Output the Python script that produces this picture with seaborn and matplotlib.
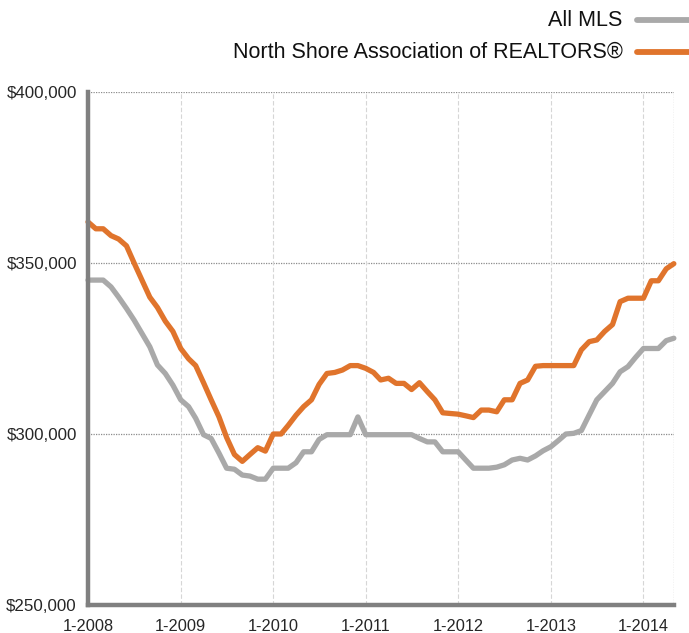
import pandas as pd
import seaborn as sns
import matplotlib.pyplot as plt
import matplotlib.ticker as mticker

# monthly median prices, Jan 2008 - May 2014 (in $1000s)
months = pd.date_range('2008-01-01', '2014-05-01', freq='MS')

north_shore = [362, 360, 360, 358, 357, 355, 350, 345, 340, 337, 333, 330,
               325, 322, 320, 315, 310, 305, 299, 294, 292, 294, 296, 295,
               300, 300, 302.5, 305.5, 308, 310, 314.5, 317.7, 318, 318.7, 320, 320,
               319.2, 318, 315.8, 316.3, 314.8, 314.8, 313, 315, 312.4, 310, 306.2, 306,
               305.8, 305.3, 304.8, 307, 307, 306.5, 310, 310, 314.8, 315.8, 319.8, 320,
               320, 320, 320, 320, 324.6, 327, 327.5, 330, 332, 338.7, 339.7, 339.7,
               339.7, 344.8, 344.8, 348.3, 349.8]
all_mls = [345, 345, 345, 343, 340, 336.7, 333.3, 329.4, 325.5, 320.2, 317.7, 314.3,
           310, 308, 304.6, 299.8, 298.7, 294.4, 290, 289.7, 288, 287.7, 286.8, 286.8,
           290, 290, 290, 291.6, 294.8, 294.8, 298.4, 299.8, 299.8, 299.8, 299.8, 305,
           299.8, 299.8, 299.8, 299.8, 299.8, 299.8, 299.8, 298.7, 297.7, 297.7, 294.8, 294.8,
           294.8, 292.3, 290, 290, 290, 290.3, 291, 292.4, 292.9, 292.4, 293.6, 295.1,
           296.3, 298.2, 300, 300.2, 301, 305.6, 310, 312.4, 314.8, 318.2, 319.7, 322.4,
           325, 325, 325, 327.3, 328]

series_names = ['All MLS', 'North Shore Association of REALTORS\u00ae']
series_colors = ['#a9a9a9', '#e0742c']

df = pd.DataFrame({
    'month': list(months) * 2,
    'price': [v * 1000 for v in all_mls + north_shore],
    'series': [series_names[0]] * len(all_mls) + [series_names[1]] * len(north_shore),
})

sns.set_style('white')
plt.rcParams['font.family'] = ['Liberation Sans', 'DejaVu Sans']

fig = plt.figure(figsize=(6.89, 6.33), dpi=100)
ax = fig.add_axes([0.1277, 0.0442, 0.978 - 0.1277, 0.8547 - 0.0442])

sns.lineplot(data=df, x='month', y='price', hue='series', hue_order=series_names,
             palette=series_colors, linewidth=3.8, ax=ax, legend=False,
             solid_capstyle='round', solid_joinstyle='round', clip_on=False)

ax.set_xlim(pd.Timestamp('2008-01-01'), pd.Timestamp('2014-05-01'))
ax.set_ylim(250000, 400000)

years = pd.date_range('2008-01-01', '2014-01-01', freq='YS')
ax.set_xticks(years)
ax.set_xticklabels(['1-%d' % y.year for y in years])
ax.set_yticks([250000, 300000, 350000, 400000])
ax.yaxis.set_major_formatter(mticker.FuncFormatter(lambda v, p: '${:,.0f}'.format(v)))

# gridlines
for y in [300000, 350000, 400000]:
    ax.axhline(y, color='#8c8c8c', linestyle=(0, (1, 1)), linewidth=0.9, zorder=0)
for x in years[1:]:
    ax.axvline(x, color='#d6d6d6', linestyle=(0, (4, 2)), linewidth=0.8, zorder=0)
ax.axvline(pd.Timestamp('2014-05-01'), color='#a0a0a0', linestyle=(0, (1, 1)),
           linewidth=0.9, zorder=0)

for s in ['top', 'right']:
    ax.spines[s].set_visible(False)
for s in ['left', 'bottom']:
    ax.spines[s].set_color('#808080')
    ax.spines[s].set_linewidth(3.2)

ax.tick_params(axis='y', length=4, width=1.2, color='#808080', labelsize=12.2, pad=4)
ax.tick_params(axis='x', length=0, labelsize=11.8, pad=10)
ax.set_xlabel('')
ax.set_ylabel('')

# legend at top right
for i, (name, col) in enumerate(zip(series_names, series_colors)):
    yy = 0.968 - i * 0.05
    fig.text(0.904, yy, name, ha='right', va='center', fontsize=15.5, color='#111111')
    fig.lines.append(plt.Line2D([0.924, 1.01], [yy, yy], transform=fig.transFigure,
                                color=col, linewidth=4.2, solid_capstyle='round'))

fig.savefig('out.png', dpi=100)
